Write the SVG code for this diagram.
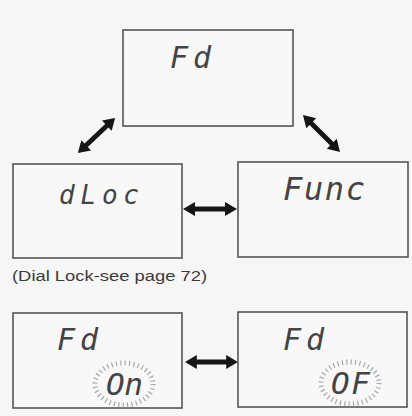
<svg xmlns="http://www.w3.org/2000/svg" width="412" height="416" viewBox="0 0 412 416">
  <style>
    .box { fill: #f8f8f8; stroke: #555; stroke-width: 1.6; }
    .lcd { font-family: "DejaVu Sans Mono", "Liberation Mono", monospace; font-style: oblique; fill: #444; }
    .cap { font-family: "Liberation Sans", Arial, sans-serif; font-size: 15.5px; fill: #3a3a3a; }
    .rays { fill: none; stroke: #a8a8a8; stroke-width: 5; stroke-dasharray: 1.2 3.2; }
    .arrow { fill: #151515; }
  </style>
  <defs>
    <path id="dbl" d="M -27 0 L -15 -7 L -15 -2.4 L 15 -2.4 L 15 -7 L 27 0 L 15 7 L 15 2.4 L -15 2.4 L -15 7 Z"/>
  </defs>
  <rect x="0" y="0" width="412" height="416" fill="#f6f6f6"/>

  <g id="connectors" class="arrow">
    <use href="#dbl" transform="translate(96.5,135.5) rotate(-43.4) scale(0.95,1)"/>
    <use href="#dbl" transform="translate(321.5,133.5) rotate(45) scale(0.97,1)"/>
    <use href="#dbl" transform="translate(210,209)"/>
    <use href="#dbl" transform="translate(211.5,362) scale(0.98,1)"/>
  </g>

  <g id="node-fd">
    <rect class="box" x="123" y="30" width="170" height="96"/>
    <text class="lcd" x="170" y="68" font-size="30" textLength="41" lengthAdjust="spacing">Fd</text>
  </g>

  <g id="node-dloc">
    <rect class="box" x="13" y="164" width="169" height="94"/>
    <text class="lcd" x="59" y="204" font-size="26" textLength="80" lengthAdjust="spacing">dLoc</text>
  </g>

  <g id="caption">
    <text class="cap" x="12" y="281" textLength="195" lengthAdjust="spacingAndGlyphs">(Dial Lock-see page 72)</text>
  </g>

  <g id="node-func">
    <rect class="box" x="238" y="162" width="170" height="95"/>
    <text class="lcd" x="283" y="200" font-size="32" textLength="82" lengthAdjust="spacing">Func</text>
  </g>

  <g id="node-fd-on">
    <rect class="box" x="13" y="313" width="169" height="95"/>
    <text class="lcd" x="57" y="350" font-size="30" textLength="41" lengthAdjust="spacing">Fd</text>
    <ellipse class="rays" cx="124" cy="384" rx="29" ry="21"/>
    <text class="lcd" x="106" y="395" font-size="31" textLength="37" lengthAdjust="spacing">On</text>
  </g>

  <g id="node-fd-of">
    <rect class="box" x="238" y="312" width="169" height="95"/>
    <text class="lcd" x="283" y="350" font-size="30" textLength="41" lengthAdjust="spacing">Fd</text>
    <ellipse class="rays" cx="350" cy="383" rx="29" ry="21"/>
    <text class="lcd" x="331" y="394" font-size="31" textLength="39" lengthAdjust="spacing">OF</text>
  </g>
</svg>
